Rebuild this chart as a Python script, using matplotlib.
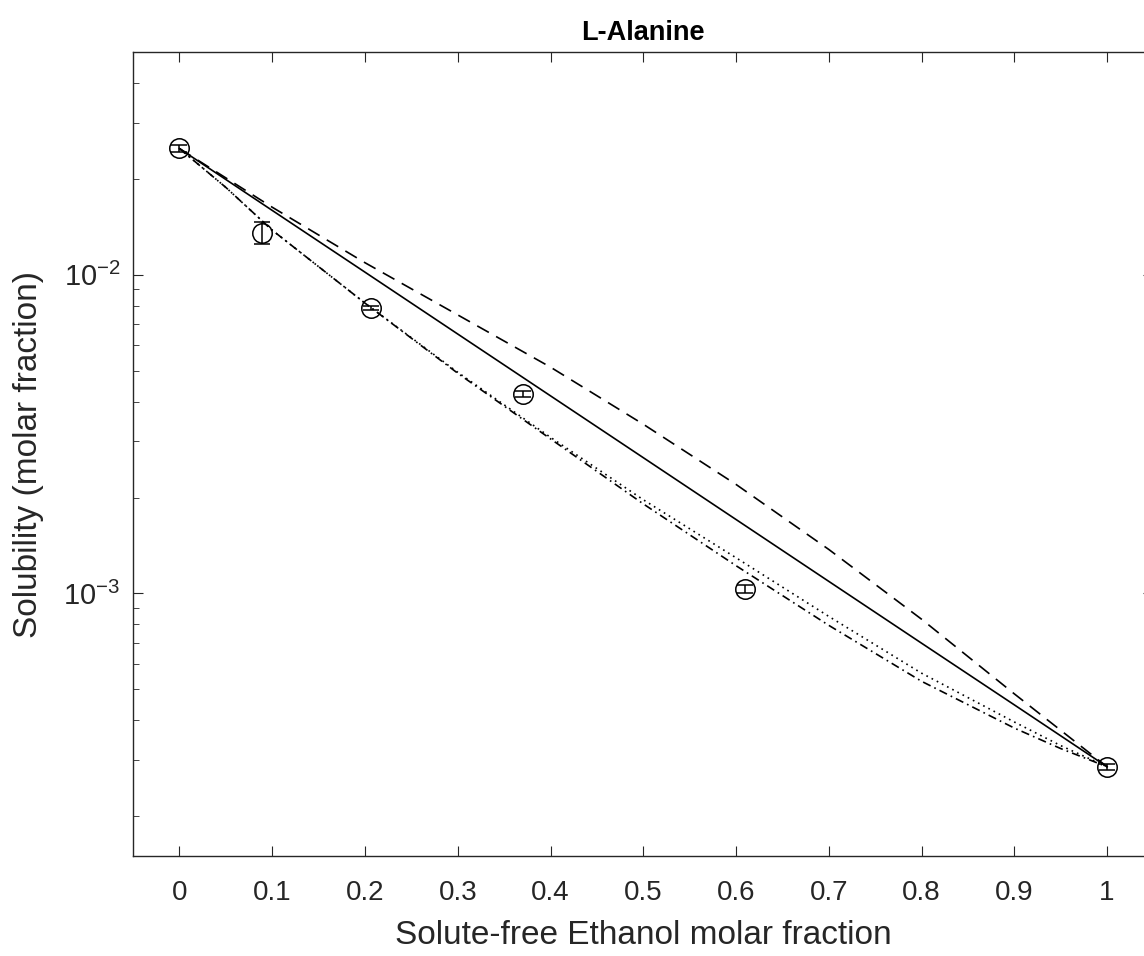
import matplotlib
matplotlib.use("Agg")
import matplotlib.pyplot as plt
from matplotlib.ticker import LogLocator, NullFormatter

plt.rcParams['font.family'] = ['Liberation Sans', 'DejaVu Sans']
plt.rcParams['mathtext.default'] = 'regular'

# 实验点 (x: 无溶质乙醇摩尔分数, y: 溶解度)
exp_x = [0.0, 0.089, 0.207, 0.370, 0.610, 1.0]
exp_y = [0.0249, 0.01355, 0.00787, 0.00423, 0.00103, 0.000286]
exp_err = [0.0006, 0.0011, 0.00012, 0.0001, 0.00003, 0.000006]

# 模型曲线
x_grid = [0.0, 0.1, 0.2, 0.3, 0.4, 0.5, 0.6, 0.7, 0.8, 0.9, 1.0]
y_solid = [0.02489, 0.01592, 0.01019, 0.006516, 0.004169, 0.002667,
           0.001706, 0.001091, 0.000698, 0.000447, 0.0002858]
y_dash = [0.02489, 0.01629, 0.01091, 0.007482, 0.005129, 0.003396,
          0.002198, 0.001374, 0.000830, 0.000484, 0.0002858]

x_fine = [0.0, 0.05, 0.1, 0.2, 0.3, 0.4, 0.5, 0.6, 0.7, 0.8, 0.9, 0.95, 1.0]
y_dot = [0.02489, 0.01880, 0.01380, 0.008147, 0.004943, 0.003090, 0.001968,
         0.001294, 0.000847, 0.000562, 0.000395, 0.000333, 0.0002858]
y_dashdot = [0.02489, 0.01880, 0.01380, 0.008147, 0.004909, 0.003055, 0.001910,
             0.001222, 0.000794, 0.000530, 0.000378, 0.000326, 0.0002858]

xticks = [0, 0.1, 0.2, 0.3, 0.4, 0.5, 0.6, 0.7, 0.8, 0.9, 1]
xtick_labels = ['0', '0.1', '0.2', '0.3', '0.4', '0.5', '0.6', '0.7', '0.8', '0.9', '1']

fig = plt.figure(figsize=(11.44, 9.56), dpi=100)
# 右边框超出画布 (原图被裁切)
ax = fig.add_axes([0.1163, 0.1046, 0.892, 0.841])

ax.plot(x_grid, y_solid, color='black', linestyle='-', linewidth=1.2)
ax.plot(x_grid, y_dash, color='black', linestyle=(0, (8, 5)), linewidth=1.2)
ax.plot(x_fine, y_dot, color='black', linestyle=(0, (1, 2.5)), linewidth=1.2)
ax.plot(x_fine, y_dashdot, color='black', linestyle=(0, (5, 2.5, 1, 2.5)), linewidth=1.2)

ax.errorbar(exp_x, exp_y, yerr=exp_err, fmt='o', color='black', mfc='none',
            markersize=14, markeredgewidth=1.1, elinewidth=1.1, capsize=6)

ax.set_yscale('log')
ax.set_xlim(-0.05, 1.05)
ax.set_ylim(1.5e-4, 5e-2)
ax.set_xticks(xticks)
ax.set_xticklabels(xtick_labels)
ax.yaxis.set_major_locator(LogLocator(base=10, numticks=10))
ax.yaxis.set_minor_locator(LogLocator(base=10, subs=range(2, 10), numticks=20))
ax.yaxis.set_minor_formatter(NullFormatter())

ax.tick_params(which='both', direction='in', top=True, right=True,
               labelsize=20, colors='#262626', labelcolor='#262626')
ax.tick_params(which='major', length=7)
ax.tick_params(axis='x', which='major', pad=17)
ax.tick_params(axis='y', which='major', pad=9, labelsize=21)
ax.tick_params(which='minor', length=4)
for s in ax.spines.values():
    s.set_color('#262626')
    s.set_linewidth(1.0)

ax.set_xlabel('Solute-free Ethanol molar fraction', fontsize=24, color='#262626', labelpad=10)
ax.set_ylabel('Solubility (molar fraction)', fontsize=24, color='#262626', labelpad=14)
ax.set_title('L-Alanine', fontsize=19.5, fontweight='bold', color='black', pad=9)

fig.savefig('out.png', dpi=100)
